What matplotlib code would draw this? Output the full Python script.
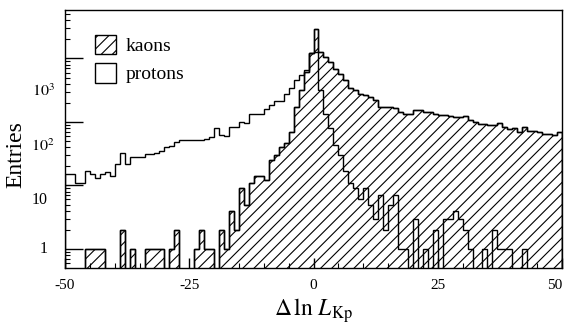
import numpy as np
import matplotlib
matplotlib.use("Agg")
import matplotlib.pyplot as plt
from matplotlib.patches import Patch
from matplotlib.ticker import FixedLocator, NullFormatter
import matplotlib.transforms as mtransforms

plt.rcParams["font.family"] = ["Liberation Serif", "DejaVu Serif"]
plt.rcParams["mathtext.fontset"] = "stix"
plt.rcParams["hatch.linewidth"] = 0.8

# bin edges: 100 bins of width 1 from -50 to 50
edges = np.arange(-50, 51, 1)

# entries per bin
kaons = [
    0, 0, 0, 0, 1, 1, 1, 1, 0, 0,
    0, 2, 0, 1, 0, 0, 1, 1, 1, 1,
    0, 1, 2, 0, 0, 0, 1, 2, 1, 1,
    0, 2, 1, 4, 2, 9, 5, 11, 14, 14,
    12, 25, 30, 40, 46, 70, 172, 316, 615, 1200,
    2870, 1250, 1050, 890, 680, 560, 460, 338, 316, 280,
    265, 250, 220, 172, 172, 175, 165, 143, 135, 135,
    153, 153, 143, 143, 135, 128, 128, 123, 120, 120,
    125, 107, 100, 92, 92, 89, 89, 96, 83, 78,
    80, 70, 83, 73, 73, 70, 65, 65, 62, 70,
]
protons = [
    15, 15, 11, 11, 17, 15, 13, 15, 16, 14,
    22, 33, 22, 28, 28, 28, 31, 31, 33, 35,
    40, 42, 48, 51, 51, 51, 51, 51, 54, 58,
    79, 63, 60, 83, 83, 100, 95, 135, 135, 135,
    160, 185, 210, 215, 280, 338, 460, 550, 665, 1200,
    1250, 316, 135, 80, 43, 30, 17, 11, 9, 6,
    9, 5, 3, 7, 2, 5, 7, 1, 1, 0,
    3, 0, 1, 0, 2, 0, 3, 3, 4, 3,
    2, 1, 0, 0, 1, 0, 2, 1, 1, 1,
    0, 0, 1, 0, 0, 0, 0, 0, 0, 0,
]

# y positions of the decade labels as printed on the original axis
ylabel_text = ["1", "10", r"$10^2$", r"$10^3$"]
ylabel_pos = [1.0, 5.8, 40.0, 295.0]

floor = 0.1
k = np.clip(np.array(kaons, dtype=float), floor, None)
p = np.clip(np.array(protons, dtype=float), floor, None)

fig = plt.figure(figsize=(5.67, 3.26), dpi=100)
ax = fig.add_axes([65 / 567, 1 - 268 / 326, 497 / 567, 258 / 326])

ax.stairs(k, edges, baseline=floor, fill=True, facecolor="white",
          edgecolor="black", hatch="///", linewidth=1.0)
ax.stairs(k, edges, baseline=floor, fill=False, edgecolor="black", linewidth=1.0)
ax.stairs(p, edges, baseline=floor, fill=False, edgecolor="black", linewidth=1.0)

ax.set_yscale("log")
ax.set_xlim(-50, 50)
ax.set_ylim(0.5, 5800)

ax.yaxis.set_major_locator(FixedLocator([1, 10, 100, 1000]))
minors = [m * 10.0 ** d for d in range(-1, 4) for m in range(2, 10)]
ax.yaxis.set_minor_locator(FixedLocator([v for v in minors if 0.5 < v < 5800]))
ax.yaxis.set_major_formatter(NullFormatter())
ax.yaxis.set_minor_formatter(NullFormatter())

ax.set_xticks([-50, -25, 0, 25, 50])
ax.set_xticks(np.arange(-50, 51, 5), minor=True)
ax.set_xticklabels(["-50", "-25", "0", "25", "50"], fontsize=11)
ax.get_xticklabels()[-1].set_horizontalalignment("right")

ax.tick_params(axis="both", which="both", direction="in", top=False, right=False)
ax.tick_params(axis="y", which="major", length=13, width=1.0)
ax.tick_params(axis="y", which="minor", length=3.6, width=0.8)
ax.tick_params(axis="x", which="major", length=7, width=1.0, pad=8)
ax.tick_params(axis="x", which="minor", length=3.6, width=0.8)

for s in ax.spines.values():
    s.set_linewidth(1.0)

trans = mtransforms.blended_transform_factory(ax.transAxes, ax.transData)
for txt, pos in zip(ylabel_text, ylabel_pos):
    xr = -0.020 if "^" in txt else -0.034
    ax.text(xr, pos, txt, transform=trans, ha="right", va="center", fontsize=11.5)

ax.set_ylabel("Entries", fontsize=17)
ax.yaxis.set_label_coords(-0.078, 0.44)
ax.set_xlabel(r"$\Delta\,\ln\,L_{\rm Kp}$", fontsize=17)
ax.xaxis.set_label_coords(0.5, -0.108)

handles = [
    Patch(facecolor="white", edgecolor="black", hatch="///", linewidth=1.0),
    Patch(facecolor="white", edgecolor="black", linewidth=1.0),
]
ax.legend(handles, ["kaons", "protons"], loc="upper left", frameon=False,
          fontsize=14, handlelength=1.05, handleheight=1.2, handletextpad=0.5,
          labelspacing=0.4, borderaxespad=0, bbox_to_anchor=(0.045, 0.935))

fig.savefig("out.png", dpi=100)
